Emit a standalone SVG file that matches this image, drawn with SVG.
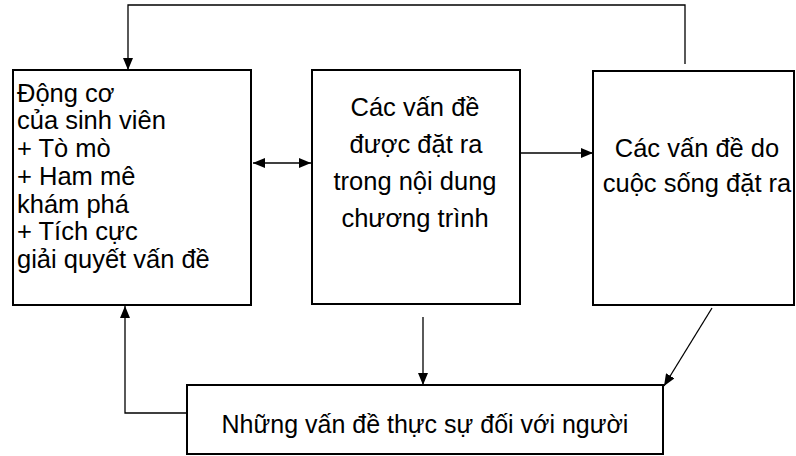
<svg xmlns="http://www.w3.org/2000/svg" width="796" height="456" viewBox="0 0 796 456">
<style>
.box{fill:#fff;stroke:#000;stroke-width:2}
.con{fill:none;stroke:#000;stroke-width:1.3}
text{font-family:"Liberation Sans",Arial,sans-serif;font-size:25.5px;fill:#000}
.c{text-anchor:middle}
.s{font-size:25px}
</style>
<defs>
<marker id="ah" viewBox="0 0 12 10" refX="12" refY="5" markerWidth="12" markerHeight="10" markerUnits="userSpaceOnUse" orient="auto-start-reverse">
<path d="M0,0 L12,5 L0,10 z" fill="#000"/>
</marker>
</defs>
<rect width="796" height="456" fill="#fff"/>
<g id="connectors">
<path class="con" d="M685,64 V5 H128 V70" marker-end="url(#ah)"/>
<path class="con" d="M253,163 H311" marker-start="url(#ah)" marker-end="url(#ah)"/>
<path class="con" d="M520,153 H593" marker-end="url(#ah)"/>
<path class="con" d="M423,317 V385" marker-end="url(#ah)"/>
<path class="con" d="M712,308 L664,386" marker-end="url(#ah)"/>
<path class="con" d="M187,413 H125 V306" marker-end="url(#ah)"/>
</g>
<g id="node-dongco">
<rect class="box" x="13" y="70" width="238" height="235"/>
<text x="17" y="101.5">Động cơ</text>
<text x="17" y="129.25">của sinh viên</text>
<text x="17" y="157">+ Tò mò</text>
<text x="17" y="184.75">+ Ham mê</text>
<text x="17" y="212.5">khám phá</text>
<text x="17" y="240.25">+ Tích cực</text>
<text x="17" y="268">giải quyết vấn đề</text>
</g>
<g id="node-chuongtrinh">
<rect class="box" x="312" y="70" width="208" height="234"/>
<text class="c" x="415" y="116">Các vấn đề</text>
<text class="c" x="416" y="153">được đặt ra</text>
<text class="c" x="415" y="190">trong nội dung</text>
<text class="c" x="415" y="227">chương trình</text>
</g>
<g id="node-cuocsong">
<rect class="box" x="593" y="71" width="201" height="234"/>
<text class="c" x="697" y="157">Các vấn đề do</text>
<text class="c" x="697" y="192">cuộc sống đặt ra</text>
</g>
<g id="node-thucsu">
<rect class="box" x="187" y="385" width="476" height="69"/>
<text class="c s" x="425" y="433">Những vấn đề thực sự đối với người</text>
</g>
</svg>
